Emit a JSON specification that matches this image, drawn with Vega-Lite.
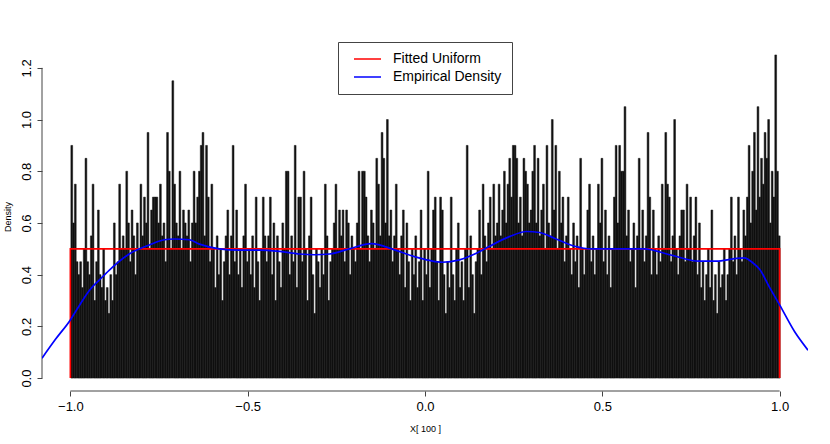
{
  "$schema": "https://vega.github.io/schema/vega-lite/v6.json",
  "width": 766,
  "height": 349,
  "autosize": {"type": "none"},
  "padding": {"left": 42, "top": 42, "right": 22, "bottom": 53},
  "background": "white",
  "config": {
    "view": {"stroke": null},
    "font": "Liberation Sans",
    "axis": {"grid": false, "domain": false, "tickColor": "#444", "tickSize": 5, "labelColor": "black", "labelFontSize": 13, "labelFont": "Liberation Sans", "titleFont": "Liberation Sans", "titleFontWeight": "normal", "titleFontSize": 9, "titleColor": "black"}
  },
  "datasets": {
    "bars": [
      {"x":-1,"y":0.9},{"x":-0.995,"y":0.6},{"x":-0.99,"y":0.75},{"x":-0.985,"y":0.45},{"x":-0.98,"y":0.4},{"x":-0.975,"y":0.45},{"x":-0.97,"y":0.35},{"x":-0.965,"y":0.5},{"x":-0.96,"y":0.85},{"x":-0.955,"y":0.45},
      {"x":-0.95,"y":0.4},{"x":-0.945,"y":0.55},{"x":-0.94,"y":0.75},{"x":-0.935,"y":0.3},{"x":-0.93,"y":0.45},{"x":-0.925,"y":0.65},{"x":-0.92,"y":0.4},{"x":-0.915,"y":0.35},{"x":-0.91,"y":0.5},{"x":-0.905,"y":0.3},
      {"x":-0.9,"y":0.35},{"x":-0.895,"y":0.25},{"x":-0.89,"y":0.4},{"x":-0.885,"y":0.3},{"x":-0.88,"y":0.6},{"x":-0.875,"y":0.4},{"x":-0.87,"y":0.45},{"x":-0.865,"y":0.75},{"x":-0.86,"y":0.5},{"x":-0.855,"y":0.55},
      {"x":-0.85,"y":0.5},{"x":-0.845,"y":0.8},{"x":-0.84,"y":0.6},{"x":-0.835,"y":0.45},{"x":-0.83,"y":0.65},{"x":-0.825,"y":0.55},{"x":-0.82,"y":0.4},{"x":-0.815,"y":0.6},{"x":-0.81,"y":0.5},{"x":-0.805,"y":0.75},
      {"x":-0.8,"y":0.55},{"x":-0.795,"y":0.7},{"x":-0.79,"y":0.6},{"x":-0.785,"y":0.95},{"x":-0.78,"y":0.5},{"x":-0.775,"y":0.65},{"x":-0.77,"y":0.7},{"x":-0.765,"y":0.7},{"x":-0.76,"y":0.7},{"x":-0.755,"y":0.6},
      {"x":-0.75,"y":0.75},{"x":-0.745,"y":0.55},{"x":-0.74,"y":0.6},{"x":-0.735,"y":0.45},{"x":-0.73,"y":0.95},{"x":-0.725,"y":0.8},{"x":-0.72,"y":0.5},{"x":-0.715,"y":1.15},{"x":-0.71,"y":0.75},{"x":-0.705,"y":0.6},
      {"x":-0.7,"y":0.55},{"x":-0.695,"y":0.8},{"x":-0.69,"y":0.5},{"x":-0.685,"y":0.65},{"x":-0.68,"y":0.6},{"x":-0.675,"y":0.55},{"x":-0.67,"y":0.65},{"x":-0.665,"y":0.45},{"x":-0.66,"y":0.6},{"x":-0.655,"y":0.8},
      {"x":-0.65,"y":0.6},{"x":-0.645,"y":0.7},{"x":-0.64,"y":0.8},{"x":-0.635,"y":0.9},{"x":-0.63,"y":0.95},{"x":-0.625,"y":0.55},{"x":-0.62,"y":0.9},{"x":-0.615,"y":0.7},{"x":-0.61,"y":0.45},{"x":-0.605,"y":0.75},
      {"x":-0.6,"y":0.5},{"x":-0.595,"y":0.35},{"x":-0.59,"y":0.55},{"x":-0.585,"y":0.4},{"x":-0.58,"y":0.5},{"x":-0.575,"y":0.3},{"x":-0.57,"y":0.45},{"x":-0.565,"y":0.55},{"x":-0.56,"y":0.65},{"x":-0.555,"y":0.4},
      {"x":-0.55,"y":0.55},{"x":-0.545,"y":0.9},{"x":-0.54,"y":0.45},{"x":-0.535,"y":0.65},{"x":-0.53,"y":0.4},{"x":-0.525,"y":0.5},{"x":-0.52,"y":0.35},{"x":-0.515,"y":0.55},{"x":-0.51,"y":0.75},{"x":-0.505,"y":0.45},
      {"x":-0.5,"y":0.5},{"x":-0.495,"y":0.4},{"x":-0.49,"y":0.55},{"x":-0.485,"y":0.35},{"x":-0.48,"y":0.7},{"x":-0.475,"y":0.45},{"x":-0.47,"y":0.3},{"x":-0.465,"y":0.5},{"x":-0.46,"y":0.7},{"x":-0.455,"y":0.55},
      {"x":-0.45,"y":0.45},{"x":-0.445,"y":0.55},{"x":-0.44,"y":0.7},{"x":-0.435,"y":0.4},{"x":-0.43,"y":0.6},{"x":-0.425,"y":0.3},{"x":-0.42,"y":0.55},{"x":-0.415,"y":0.45},{"x":-0.41,"y":0.35},{"x":-0.405,"y":0.6},
      {"x":-0.4,"y":0.5},{"x":-0.395,"y":0.8},{"x":-0.39,"y":0.8},{"x":-0.385,"y":0.4},{"x":-0.38,"y":0.55},{"x":-0.375,"y":0.45},{"x":-0.37,"y":0.9},{"x":-0.365,"y":0.35},{"x":-0.36,"y":0.7},{"x":-0.355,"y":0.7},
      {"x":-0.35,"y":0.45},{"x":-0.345,"y":0.8},{"x":-0.34,"y":0.5},{"x":-0.335,"y":0.3},{"x":-0.33,"y":0.55},{"x":-0.325,"y":0.7},{"x":-0.32,"y":0.4},{"x":-0.315,"y":0.25},{"x":-0.31,"y":0.5},{"x":-0.305,"y":0.45},
      {"x":-0.3,"y":0.35},{"x":-0.295,"y":0.5},{"x":-0.29,"y":0.4},{"x":-0.285,"y":0.75},{"x":-0.28,"y":0.55},{"x":-0.275,"y":0.3},{"x":-0.27,"y":0.45},{"x":-0.265,"y":0.5},{"x":-0.26,"y":0.6},{"x":-0.255,"y":0.75},
      {"x":-0.25,"y":0.5},{"x":-0.245,"y":0.65},{"x":-0.24,"y":0.55},{"x":-0.235,"y":0.65},{"x":-0.23,"y":0.45},{"x":-0.225,"y":0.65},{"x":-0.22,"y":0.6},{"x":-0.215,"y":0.4},{"x":-0.21,"y":0.55},{"x":-0.205,"y":0.5},
      {"x":-0.2,"y":0.45},{"x":-0.195,"y":0.6},{"x":-0.19,"y":0.8},{"x":-0.185,"y":0.5},{"x":-0.18,"y":0.8},{"x":-0.175,"y":0.8},{"x":-0.17,"y":0.7},{"x":-0.165,"y":0.55},{"x":-0.16,"y":0.45},{"x":-0.155,"y":0.65},
      {"x":-0.15,"y":0.6},{"x":-0.145,"y":0.5},{"x":-0.14,"y":0.85},{"x":-0.135,"y":0.75},{"x":-0.13,"y":0.55},{"x":-0.125,"y":0.95},{"x":-0.12,"y":0.85},{"x":-0.115,"y":0.6},{"x":-0.11,"y":1.0},{"x":-0.105,"y":0.55},
      {"x":-0.1,"y":0.65},{"x":-0.095,"y":0.45},{"x":-0.09,"y":0.55},{"x":-0.085,"y":0.75},{"x":-0.08,"y":0.5},{"x":-0.075,"y":0.4},{"x":-0.07,"y":0.55},{"x":-0.065,"y":0.65},{"x":-0.06,"y":0.35},{"x":-0.055,"y":0.6},
      {"x":-0.05,"y":0.45},{"x":-0.045,"y":0.3},{"x":-0.04,"y":0.5},{"x":-0.035,"y":0.4},{"x":-0.03,"y":0.55},{"x":-0.025,"y":0.35},{"x":-0.02,"y":0.45},{"x":-0.015,"y":0.65},{"x":-0.01,"y":0.3},{"x":-0.005,"y":0.5},
      {"x":0,"y":0.4},{"x":0.005,"y":0.8},{"x":0.01,"y":0.35},{"x":0.015,"y":0.5},{"x":0.02,"y":0.65},{"x":0.025,"y":0.7},{"x":0.03,"y":0.45},{"x":0.035,"y":0.3},{"x":0.04,"y":0.7},{"x":0.045,"y":0.65},
      {"x":0.05,"y":0.4},{"x":0.055,"y":0.25},{"x":0.06,"y":0.45},{"x":0.065,"y":0.35},{"x":0.07,"y":0.7},{"x":0.075,"y":0.4},{"x":0.08,"y":0.3},{"x":0.085,"y":0.5},{"x":0.09,"y":0.6},{"x":0.095,"y":0.35},
      {"x":0.1,"y":0.45},{"x":0.105,"y":0.3},{"x":0.11,"y":0.5},{"x":0.115,"y":0.9},{"x":0.12,"y":0.35},{"x":0.125,"y":0.55},{"x":0.13,"y":0.4},{"x":0.135,"y":0.25},{"x":0.14,"y":0.45},{"x":0.145,"y":0.5},
      {"x":0.15,"y":0.65},{"x":0.155,"y":0.4},{"x":0.16,"y":0.75},{"x":0.165,"y":0.55},{"x":0.17,"y":0.45},{"x":0.175,"y":0.6},{"x":0.18,"y":0.7},{"x":0.185,"y":0.5},{"x":0.19,"y":0.75},{"x":0.195,"y":0.55},
      {"x":0.2,"y":0.6},{"x":0.205,"y":0.75},{"x":0.21,"y":0.55},{"x":0.215,"y":0.65},{"x":0.22,"y":0.8},{"x":0.225,"y":0.6},{"x":0.23,"y":0.75},{"x":0.235,"y":0.85},{"x":0.24,"y":0.7},{"x":0.245,"y":0.9},
      {"x":0.25,"y":0.9},{"x":0.255,"y":0.85},{"x":0.26,"y":0.6},{"x":0.265,"y":0.7},{"x":0.27,"y":0.55},{"x":0.275,"y":0.85},{"x":0.28,"y":0.8},{"x":0.285,"y":0.75},{"x":0.29,"y":0.6},{"x":0.295,"y":0.65},
      {"x":0.3,"y":0.8},{"x":0.305,"y":0.9},{"x":0.31,"y":0.6},{"x":0.315,"y":0.85},{"x":0.32,"y":0.55},{"x":0.325,"y":0.65},{"x":0.33,"y":0.75},{"x":0.335,"y":0.5},{"x":0.34,"y":0.9},{"x":0.345,"y":0.6},
      {"x":0.35,"y":0.55},{"x":0.355,"y":1.0},{"x":0.36,"y":0.65},{"x":0.365,"y":0.9},{"x":0.37,"y":0.5},{"x":0.375,"y":0.8},{"x":0.38,"y":0.6},{"x":0.385,"y":0.7},{"x":0.39,"y":0.45},{"x":0.395,"y":0.55},
      {"x":0.4,"y":0.7},{"x":0.405,"y":0.5},{"x":0.41,"y":0.4},{"x":0.415,"y":0.6},{"x":0.42,"y":0.45},{"x":0.425,"y":0.55},{"x":0.43,"y":0.35},{"x":0.435,"y":0.85},{"x":0.44,"y":0.5},{"x":0.445,"y":0.4},
      {"x":0.45,"y":0.5},{"x":0.455,"y":0.65},{"x":0.46,"y":0.75},{"x":0.465,"y":0.45},{"x":0.47,"y":0.55},{"x":0.475,"y":0.4},{"x":0.48,"y":0.5},{"x":0.485,"y":0.75},{"x":0.49,"y":0.6},{"x":0.495,"y":0.85},
      {"x":0.5,"y":0.45},{"x":0.505,"y":0.65},{"x":0.51,"y":0.4},{"x":0.515,"y":0.55},{"x":0.52,"y":0.35},{"x":0.525,"y":0.5},{"x":0.53,"y":0.7},{"x":0.535,"y":0.9},{"x":0.54,"y":0.6},{"x":0.545,"y":0.9},
      {"x":0.55,"y":0.8},{"x":0.555,"y":0.8},{"x":0.56,"y":1.05},{"x":0.565,"y":0.55},{"x":0.57,"y":0.65},{"x":0.575,"y":0.45},{"x":0.58,"y":0.5},{"x":0.585,"y":0.6},{"x":0.59,"y":0.35},{"x":0.595,"y":0.55},
      {"x":0.6,"y":0.85},{"x":0.605,"y":0.5},{"x":0.61,"y":0.65},{"x":0.615,"y":0.45},{"x":0.62,"y":0.55},{"x":0.625,"y":0.95},{"x":0.63,"y":0.7},{"x":0.635,"y":0.4},{"x":0.64,"y":0.65},{"x":0.645,"y":0.5},
      {"x":0.65,"y":0.4},{"x":0.655,"y":0.55},{"x":0.66,"y":0.45},{"x":0.665,"y":0.75},{"x":0.67,"y":0.5},{"x":0.675,"y":0.95},{"x":0.68,"y":0.75},{"x":0.685,"y":0.7},{"x":0.69,"y":0.45},{"x":0.695,"y":0.55},
      {"x":0.7,"y":1.0},{"x":0.705,"y":0.5},{"x":0.71,"y":0.4},{"x":0.715,"y":0.55},{"x":0.72,"y":0.65},{"x":0.725,"y":0.65},{"x":0.73,"y":0.45},{"x":0.735,"y":0.75},{"x":0.74,"y":0.5},{"x":0.745,"y":0.7},
      {"x":0.75,"y":0.45},{"x":0.755,"y":0.55},{"x":0.76,"y":0.7},{"x":0.765,"y":0.4},{"x":0.77,"y":0.6},{"x":0.775,"y":0.35},{"x":0.78,"y":0.45},{"x":0.785,"y":0.3},{"x":0.79,"y":0.4},{"x":0.795,"y":0.5},
      {"x":0.8,"y":0.35},{"x":0.805,"y":0.65},{"x":0.81,"y":0.3},{"x":0.815,"y":0.4},{"x":0.82,"y":0.25},{"x":0.825,"y":0.45},{"x":0.83,"y":0.35},{"x":0.835,"y":0.4},{"x":0.84,"y":0.5},{"x":0.845,"y":0.3},
      {"x":0.85,"y":0.4},{"x":0.855,"y":0.5},{"x":0.86,"y":0.7},{"x":0.865,"y":0.45},{"x":0.87,"y":0.55},{"x":0.875,"y":0.4},{"x":0.88,"y":0.7},{"x":0.885,"y":0.5},{"x":0.89,"y":0.45},{"x":0.895,"y":0.65},
      {"x":0.9,"y":0.55},{"x":0.905,"y":0.7},{"x":0.91,"y":0.9},{"x":0.915,"y":0.6},{"x":0.92,"y":0.8},{"x":0.925,"y":0.95},{"x":0.93,"y":0.65},{"x":0.935,"y":1.05},{"x":0.94,"y":0.7},{"x":0.945,"y":0.85},
      {"x":0.95,"y":0.75},{"x":0.955,"y":0.95},{"x":0.96,"y":0.85},{"x":0.965,"y":1.0},{"x":0.97,"y":0.6},{"x":0.975,"y":0.8},{"x":0.98,"y":0.7},{"x":0.985,"y":1.25},{"x":0.99,"y":0.8},{"x":0.995,"y":0.55}
    ],
    "lines": [
      {"series":"Fitted Uniform","o":1,"x":-1,"y":0},
      {"series":"Fitted Uniform","o":2,"x":-1,"y":0.5},
      {"series":"Fitted Uniform","o":3,"x":1,"y":0.5},
      {"series":"Fitted Uniform","o":4,"x":1,"y":0},
      {"series":"Empirical Density","o":1,"x":-1.08,"y":0.077},
      {"series":"Empirical Density","o":2,"x":-1.042,"y":0.15},
      {"series":"Empirical Density","o":3,"x":-1.0,"y":0.225},
      {"series":"Empirical Density","o":4,"x":-0.975,"y":0.28},
      {"series":"Empirical Density","o":5,"x":-0.946,"y":0.34},
      {"series":"Empirical Density","o":6,"x":-0.918,"y":0.38},
      {"series":"Empirical Density","o":7,"x":-0.89,"y":0.418},
      {"series":"Empirical Density","o":8,"x":-0.834,"y":0.48},
      {"series":"Empirical Density","o":9,"x":-0.777,"y":0.515},
      {"series":"Empirical Density","o":10,"x":-0.735,"y":0.535},
      {"series":"Empirical Density","o":11,"x":-0.707,"y":0.538},
      {"series":"Empirical Density","o":12,"x":-0.664,"y":0.535},
      {"series":"Empirical Density","o":13,"x":-0.636,"y":0.518},
      {"series":"Empirical Density","o":14,"x":-0.58,"y":0.5},
      {"series":"Empirical Density","o":15,"x":-0.523,"y":0.495},
      {"series":"Empirical Density","o":16,"x":-0.467,"y":0.495},
      {"series":"Empirical Density","o":17,"x":-0.41,"y":0.49},
      {"series":"Empirical Density","o":18,"x":-0.354,"y":0.48},
      {"series":"Empirical Density","o":19,"x":-0.312,"y":0.477},
      {"series":"Empirical Density","o":20,"x":-0.269,"y":0.48},
      {"series":"Empirical Density","o":21,"x":-0.213,"y":0.5},
      {"series":"Empirical Density","o":22,"x":-0.151,"y":0.52},
      {"series":"Empirical Density","o":23,"x":-0.086,"y":0.496},
      {"series":"Empirical Density","o":24,"x":-0.03,"y":0.47},
      {"series":"Empirical Density","o":25,"x":0.013,"y":0.455},
      {"series":"Empirical Density","o":26,"x":0.049,"y":0.448},
      {"series":"Empirical Density","o":27,"x":0.097,"y":0.457},
      {"series":"Empirical Density","o":28,"x":0.14,"y":0.48},
      {"series":"Empirical Density","o":29,"x":0.182,"y":0.51},
      {"series":"Empirical Density","o":30,"x":0.238,"y":0.547},
      {"series":"Empirical Density","o":31,"x":0.286,"y":0.567},
      {"series":"Empirical Density","o":32,"x":0.323,"y":0.563},
      {"series":"Empirical Density","o":33,"x":0.365,"y":0.541},
      {"series":"Empirical Density","o":34,"x":0.422,"y":0.51},
      {"series":"Empirical Density","o":35,"x":0.47,"y":0.5},
      {"series":"Empirical Density","o":36,"x":0.563,"y":0.5},
      {"series":"Empirical Density","o":37,"x":0.619,"y":0.5},
      {"series":"Empirical Density","o":38,"x":0.69,"y":0.477},
      {"series":"Empirical Density","o":39,"x":0.774,"y":0.452},
      {"series":"Empirical Density","o":40,"x":0.822,"y":0.452},
      {"series":"Empirical Density","o":41,"x":0.873,"y":0.462},
      {"series":"Empirical Density","o":42,"x":0.9,"y":0.465},
      {"series":"Empirical Density","o":43,"x":0.925,"y":0.445},
      {"series":"Empirical Density","o":44,"x":0.944,"y":0.42},
      {"series":"Empirical Density","o":45,"x":0.972,"y":0.35},
      {"series":"Empirical Density","o":46,"x":1.0,"y":0.283},
      {"series":"Empirical Density","o":47,"x":1.042,"y":0.18},
      {"series":"Empirical Density","o":48,"x":1.08,"y":0.108}
    ],
    "axes": [
      {"x":-1,"x2":1,"y":-0.05,"y2":-0.05},
      {"x":-1.08,"x2":-1.08,"y":0,"y2":1.2}
    ]
  },
  "layer": [
    {
      "data": {"name": "bars"},
      "mark": {"type": "bar", "color": "#111111", "stroke": "#111111", "strokeWidth": 0.5, "binSpacing": 0, "clip": true},
      "encoding": {
        "x": {"field": "x", "type": "quantitative", "bin": {"binned": true, "step": 0.005},
              "scale": {"domain": [-1.08, 1.08], "nice": false, "zero": false},
              "axis": {"values": [-1, -0.5, 0, 0.5, 1], "format": ".1f", "labelPadding": 4, "titlePadding": 11, "labelFlush": false},
              "title": "X[ 100 ]"},
        "y": {"field": "y", "type": "quantitative",
              "scale": {"domain": [-0.05, 1.3], "nice": false, "zero": false},
              "axis": {"values": [0, 0.2, 0.4, 0.6, 0.8, 1.0, 1.2], "format": ".1f", "labelAngle": 270, "labelAlign": "center", "labelBaseline": "bottom", "labelPadding": 4, "titlePadding": 8},
              "title": "Density"},
        "y2": {"datum": 0}
      }
    },
    {
      "data": {"name": "axes"},
      "mark": {"type": "rule", "color": "#444444", "strokeWidth": 1},
      "encoding": {
        "x": {"field": "x", "type": "quantitative", "title": "X[ 100 ]"},
        "x2": {"field": "x2"},
        "y": {"field": "y", "type": "quantitative", "title": "Density"},
        "y2": {"field": "y2"}
      }
    },
    {
      "data": {"name": "lines"},
      "mark": {"type": "line", "strokeWidth": 1.7, "clip": true, "interpolate": "monotone"},
      "encoding": {
        "x": {"field": "x", "type": "quantitative", "title": "X[ 100 ]"},
        "y": {"field": "y", "type": "quantitative", "title": "Density"},
        "order": {"field": "o", "type": "quantitative"},
        "color": {"field": "series", "type": "nominal",
                  "scale": {"domain": ["Fitted Uniform", "Empirical Density"], "range": ["#ff0000", "#0000ff"]},
                  "legend": {"orient": "none", "legendX": 296, "legendY": 0, "title": null,
                             "strokeColor": "#444444", "fillColor": "white", "padding": 10,
                             "symbolType": "M-1,0H4.4", "symbolSize": 100, "symbolStrokeWidth": 1.5, "symbolOffset": 4,
                             "labelFontSize": 14, "labelFont": "Liberation Sans", "labelColor": "black", "labelOffset": 27, "rowPadding": 4}}
      }
    }
  ]
}
